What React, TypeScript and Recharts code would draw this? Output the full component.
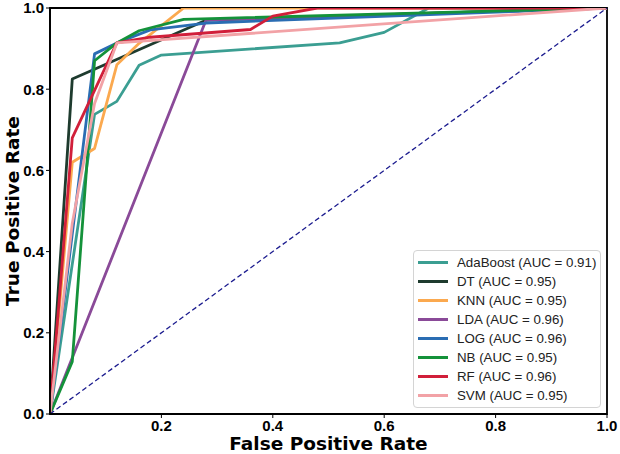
import React from "react";
import {
  LineChart,
  Line,
  XAxis,
  YAxis,
  Legend,
  Label,
  ReferenceArea,
} from "recharts";

type Pt = { x: number; y: number };

const adaBoost: Pt[] = [
  { x: 0, y: 0 },
  { x: 0.08, y: 0.738 },
  { x: 0.12, y: 0.77 },
  { x: 0.16, y: 0.859 },
  { x: 0.2, y: 0.884 },
  { x: 0.52, y: 0.914 },
  { x: 0.6, y: 0.94 },
  { x: 0.68, y: 1 },
  { x: 1, y: 1 },
];
const dt: Pt[] = [
  { x: 0, y: 0 },
  { x: 0.04, y: 0.825 },
  { x: 0.28, y: 0.97 },
  { x: 1, y: 1 },
];
const knn: Pt[] = [
  { x: 0, y: 0 },
  { x: 0.04, y: 0.62 },
  { x: 0.08, y: 0.654 },
  { x: 0.12, y: 0.86 },
  { x: 0.16, y: 0.913 },
  { x: 0.24, y: 1 },
  { x: 1, y: 1 },
];
const lda: Pt[] = [
  { x: 0, y: 0 },
  { x: 0.28, y: 0.97 },
  { x: 1, y: 1 },
];
const log: Pt[] = [
  { x: 0, y: 0 },
  { x: 0.08, y: 0.887 },
  { x: 0.12, y: 0.914 },
  { x: 0.18, y: 0.946 },
  { x: 0.28, y: 0.963 },
  { x: 1, y: 1 },
];
const nb: Pt[] = [
  { x: 0, y: 0 },
  { x: 0.04, y: 0.129 },
  { x: 0.08, y: 0.87 },
  { x: 0.12, y: 0.914 },
  { x: 0.16, y: 0.944 },
  { x: 0.24, y: 0.972 },
  { x: 1, y: 1 },
];
const rf: Pt[] = [
  { x: 0, y: 0 },
  { x: 0.04, y: 0.68 },
  { x: 0.12, y: 0.914 },
  { x: 0.18, y: 0.928 },
  { x: 0.36, y: 0.947 },
  { x: 0.4, y: 0.98 },
  { x: 0.48, y: 1 },
  { x: 1, y: 1 },
];
const svm: Pt[] = [
  { x: 0, y: 0 },
  { x: 0.04, y: 0.47 },
  { x: 0.08, y: 0.765 },
  { x: 0.12, y: 0.914 },
  { x: 1, y: 1 },
];
const chance: Pt[] = [
  { x: 0, y: 0 },
  { x: 1, y: 1 },
];

const models = [
  { name: "AdaBoost (AUC = 0.91)", data: adaBoost, color: "#3b9e92" },
  { name: "DT (AUC = 0.95)", data: dt, color: "#1e3b2e" },
  { name: "KNN (AUC = 0.95)", data: knn, color: "#fba94f" },
  { name: "LDA (AUC = 0.96)", data: lda, color: "#8a4a98" },
  { name: "LOG (AUC = 0.96)", data: log, color: "#2a6db3" },
  { name: "NB (AUC = 0.95)", data: nb, color: "#14923a" },
  { name: "RF (AUC = 0.96)", data: rf, color: "#d11f3a" },
  { name: "SVM (AUC = 0.95)", data: svm, color: "#f2a2a6" },
];

const xTicks = [0.2, 0.4, 0.6, 0.8, 1.0];
const yTicks = [0, 0.2, 0.4, 0.6, 0.8, 1.0];

const tickStyle = {
  fill: "#000",
  fontSize: 15,
  fontWeight: 700,
  fontFamily: "Liberation Sans, Arial, sans-serif",
};

const titleFont = {
  fontFamily: "DejaVu Sans, sans-serif",
  fontWeight: 700,
  fontSize: 18.5,
  fill: "#000",
};

function XTitle(props: any) {
  const { x, y, width } = props.viewBox;
  return (
    <text x={x + width / 2} y={y + 36} textAnchor="middle" style={titleFont}>
      False Positive Rate
    </text>
  );
}

function YTitle(props: any) {
  const { y, height } = props.viewBox;
  const cx = 12;
  const cy = y + height / 2;
  return (
    <text
      x={cx}
      y={cy}
      transform={`rotate(-90, ${cx}, ${cy})`}
      textAnchor="middle"
      dominantBaseline="central"
      style={titleFont}
    >
      True Positive Rate
    </text>
  );
}

function LegendBox() {
  return (
    <div
      style={{
        border: "1px solid #d4d4d4",
        borderRadius: 4,
        background: "rgba(255,255,255,0.85)",
        padding: "2px 0",
        boxSizing: "border-box",
        width: 188,
      }}
    >
      {models.map((m) => (
        <div
          key={m.name}
          style={{ display: "flex", alignItems: "center", height: 19 }}
        >
          <div
            style={{
              width: 30,
              height: 2.8,
              marginLeft: 4,
              marginRight: 9,
              background: m.color,
            }}
          />
          <span
            style={{
              fontFamily: "Liberation Sans, Arial, sans-serif",
              fontSize: 13.3,
              color: "#222",
              whiteSpace: "nowrap",
            }}
          >
            {m.name}
          </span>
        </div>
      ))}
    </div>
  );
}

export default function App() {
  return (
    <div style={{ position: "absolute", left: 0, top: 0, background: "#fff" }}>
      <LineChart
        width={620}
        height={454}
        margin={{ top: 8, right: 13, bottom: 0, left: 0 }}
      >
        <XAxis
          type="number"
          dataKey="x"
          domain={[0, 1]}
          ticks={xTicks}
          interval={0}
          allowDataOverflow
          tickFormatter={(v: number) => v.toFixed(1)}
          tick={tickStyle}
          tickSize={4}
          tickMargin={2}
          height={40}
          axisLine={{ stroke: "#000", strokeWidth: 1.8 }}
          tickLine={{ stroke: "#000" }}
        >
          <Label content={XTitle} />
        </XAxis>
        <YAxis
          type="number"
          dataKey="y"
          domain={[0, 1]}
          ticks={yTicks}
          interval={0}
          allowDataOverflow
          tickFormatter={(v: number) => v.toFixed(1)}
          tick={tickStyle}
          tickSize={4}
          tickMargin={2}
          width={50}
          axisLine={{ stroke: "#000", strokeWidth: 1.8 }}
          tickLine={{ stroke: "#000" }}
        >
          <Label content={YTitle} />
        </YAxis>
        {models.map((m) => (
          <Line
            key={m.name}
            name={m.name}
            data={m.data}
            dataKey="y"
            type="linear"
            stroke={m.color}
            strokeWidth={2.8}
            strokeLinejoin="round"
            dot={false}
            activeDot={false}
            isAnimationActive={false}
          />
        ))}
        <Line
          name="chance"
          data={chance}
          dataKey="y"
          type="linear"
          stroke="#1c1c8f"
          strokeWidth={1.3}
          strokeDasharray="5 3"
          dot={false}
          activeDot={false}
          legendType="none"
          isAnimationActive={false}
        />
        <ReferenceArea
          x1={0}
          x2={1}
          y1={0}
          y2={1}
          fill="none"
          stroke="#000"
          strokeWidth={1.8}
          ifOverflow="visible"
        />
        <Legend
          layout="vertical"
          align="center"
          verticalAlign="middle"
          content={<LegendBox />}
          wrapperStyle={{ left: 413, top: 250, width: 188 }}
        />
      </LineChart>
    </div>
  );
}
